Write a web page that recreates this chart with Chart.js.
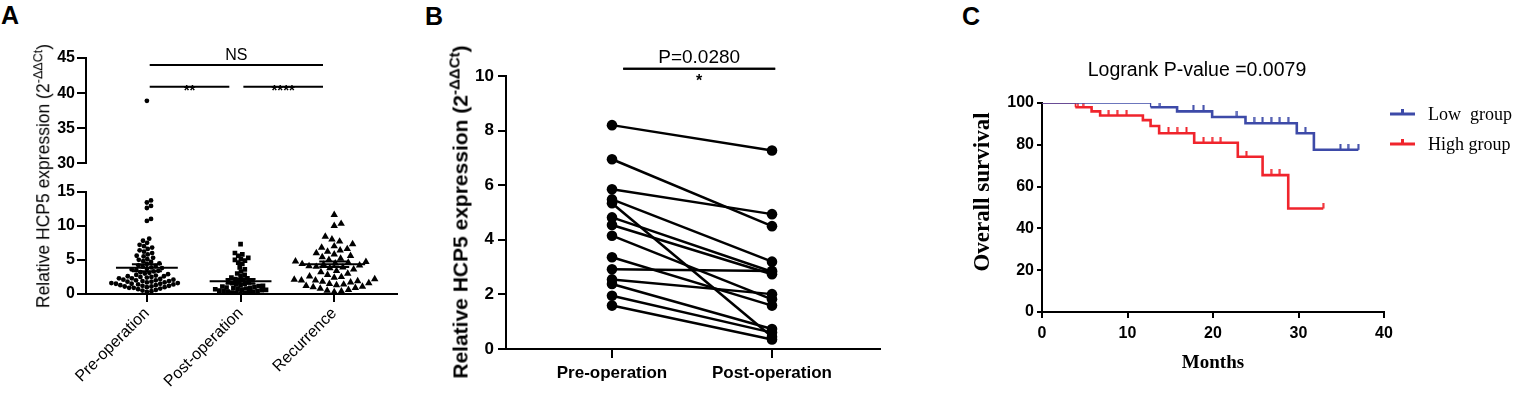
<!DOCTYPE html>
<html>
<head>
<meta charset="utf-8">
<script src="https://cdn.jsdelivr.net/npm/chart.js@4.4.1/dist/chart.umd.min.js"></script>
<style>
  body { margin: 0; background: #fff; width: 1521px; height: 396px; overflow: hidden; position: relative;
         font-family: 'Liberation Sans', Arial, sans-serif; color: #000; }
  canvas { position: absolute; }
  .panel { position: absolute; font-weight: bold; font-size: 25px; line-height: 1; }
  .ytitle { position: absolute; white-space: nowrap; transform: translate(-50%, -50%) rotate(-90deg); line-height: 1; }
  .ytitle sup { font-size: 72%; vertical-align: 0.55em; line-height: 0; }
</style>
</head>
<body>
<div class="panel" style="left:1px;top:3px">A</div>
<div class="panel" style="left:425px;top:4px">B</div>
<div class="panel" style="left:962px;top:4px">C</div>

<canvas id="aTop" style="left:0;top:40px" width="410" height="135"></canvas>
<canvas id="aBottom" style="left:0;top:180px" width="410" height="216"></canvas>
<canvas id="bChart" style="left:415px;top:30px" width="480" height="366"></canvas>
<canvas id="cChart" style="left:960px;top:40px" width="561" height="356"></canvas>

<div class="ytitle" style="left:44px;top:176px;font-size:17.5px">Relative HCP5 expression (2<sup>-ΔΔCt</sup>)</div>
<div class="ytitle" style="left:460px;top:212px;font-size:21px;font-weight:bold">Relative HCP5 expression (2<sup>-ΔΔCt</sup>)</div>

<script>
// ---- panel A: scatter of HCP5 expression per group ----
const groupLabels = ["Pre-operation", "Post-operation", "Recurrence"];
const preOp = [38.9, 13.7, 13.4, 12.9, 12.6, 11.0, 10.7, 8.1, 7.8, 7.5, 7.2, 7.0, 6.8, 6.6, 6.4, 6.2,
  6.0, 5.8, 5.6, 5.5, 5.3, 5.1, 5.0, 4.8, 4.7, 4.5, 4.4, 4.2, 4.1, 4.0, 3.9, 3.8, 3.7, 3.6, 3.5, 3.4,
  3.3, 3.2, 3.1, 3.0, 2.9, 2.8, 2.7, 2.6, 2.6, 2.5, 2.5, 2.4, 2.3, 2.3, 2.2, 2.1, 2.1, 2.0, 2.0, 1.9,
  1.9, 1.8, 1.8, 1.7, 1.7, 1.6, 1.6, 1.5, 1.5, 1.5, 1.4, 1.4, 1.3, 1.3, 1.2, 1.2, 1.1, 1.1, 1.0, 1.0,
  0.9, 0.9, 0.8, 0.7, 0.6, 0.5, 0.4, 0.3];
const postOp = [7.3, 6.0, 5.8, 5.6, 5.3, 5.1, 5.0, 4.9, 4.6, 4.4, 3.9, 3.6, 3.3, 3.0, 2.8, 2.6, 2.4,
  2.3, 2.2, 2.1, 2.0, 1.9, 1.8, 1.7, 1.6, 1.5, 1.4, 1.3, 1.2, 1.15, 1.1, 1.0, 0.95, 0.9, 0.85, 0.8,
  0.75, 0.7, 0.65, 0.6, 0.55, 0.5, 0.45, 0.4, 0.35, 0.3, 0.25, 0.2, 0.15, 0.1, 0.05];
const recurrence = [11.6, 10.3, 10.0, 8.4, 8.0, 7.7, 7.3, 7.0, 6.8, 6.6, 6.4, 6.2, 6.0, 5.8, 5.6, 5.4,
  5.2, 5.0, 4.8, 4.7, 4.6, 4.5, 4.4, 4.3, 4.2, 4.1, 4.0, 3.9, 3.8, 3.6, 3.4, 3.2, 3.0, 2.8, 2.6, 2.5,
  2.4, 2.2, 2.1, 2.0, 2.0, 1.9, 1.8, 1.7, 1.6, 1.5, 1.4, 1.3, 1.2, 1.1, 1.0, 0.9, 0.8, 0.6, 0.5, 0.4, 0.3];
const groupMeans = [3.85, 1.85, 4.36];
const groupSems = [0.5, 0.35, 0.4];
const aTicksTop = [30, 35, 40, 45];
const aTicksBottom = [0, 5, 10, 15];
// significance brackets: group index from/to, height in y units
const aBrackets = [
  { from: 0, to: 2, level: 44, text: "NS" },
  { from: 0, to: 1, level: 40.9, text: "**" },
  { from: 1, to: 2, level: 40.9, text: "****" },
];

// ---- panel B: paired samples ----
const pairedLabels = ["Pre-operation", "Post-operation"];
const pairedPre = [8.2, 6.95, 5.85, 5.48, 5.34, 4.82, 4.54, 4.15, 3.36, 2.92, 2.55, 2.38, 1.95, 1.59];
const pairedPost = [7.27, 4.5, 4.94, 3.2, 0.45, 2.83, 2.74, 1.82, 1.59, 2.86, 2.01, 0.73, 0.6, 0.35];

// ---- panel C: Kaplan-Meier ----
const lowTimes = [0, 12.7, 15.8, 19.9, 23.8, 29.8, 31.8, 37.0];
const lowSurv = [100, 98.0, 96.0, 93.3, 90.3, 85.5, 77.6, 77.6];
const lowCensor = [8.9, 10.9, 13.8, 17.7, 18.9, 22.8, 24.8, 25.8, 26.8, 27.8, 28.8, 30.8, 34.9, 35.8, 37.0];
const highTimes = [0, 3.9, 5.8, 6.8, 11.8, 12.7, 13.7, 17.8, 22.9, 25.8, 28.8, 32.9];
const highSurv = [100, 98.0, 96.0, 94.0, 91.8, 89.0, 85.5, 81.0, 74.3, 65.5, 49.5, 49.5];
const highCensor = [4.2, 4.8, 7.8, 8.8, 9.9, 14.8, 15.8, 16.9, 18.9, 19.9, 20.9, 23.9, 26.8, 27.8, 32.9];

const BLUE = "#3d4aa8";
const RED = "#f0242c";

Chart.defaults.font.family = "'Liberation Sans', Arial, sans-serif";
Chart.defaults.color = "#000";
Chart.defaults.animation = false;
Chart.defaults.responsive = false;
Chart.defaults.plugins.legend.display = false;
Chart.defaults.plugins.tooltip.enabled = false;

function gridStyle(len) {
  return { drawOnChartArea: false, drawTicks: true, tickLength: len, color: "#000", lineWidth: 2 };
}
const border = { color: "#000", width: 2 };

// beeswarm layout in pixel space, converted back to x values
function swarm(chart, values, cat, d) {
  const xs = chart.scales.x, ys = chart.scales.y;
  const cx = xs.getPixelForValue(cat);
  const placed = [];
  const out = new Array(values.length);
  const order = values.map((v, i) => i).sort((a, b) => values[a] - values[b]);
  order.forEach((i) => {
    const py = ys.getPixelForValue(values[i]);
    const cands = [0];
    placed.forEach((p) => {
      const dy = p.y - py;
      if (Math.abs(dy) < d) {
        const dx = Math.sqrt(d * d - dy * dy);
        cands.push(p.x + dx, p.x - dx);
      }
    });
    cands.sort((a, b) => Math.abs(a) - Math.abs(b));
    const dx = cands.find((c) => placed.every((p) => (p.x - c) ** 2 + (p.y - py) ** 2 >= d * d - 0.01));
    placed.push({ x: dx, y: py });
    out[i] = { x: xs.getValueForPixel(cx + dx), y: values[i] };
  });
  return out;
}

const bracketPlugin = {
  id: "brackets",
  afterDraw(chart, args, opts) {
    const ctx = chart.ctx, xs = chart.scales.x, ys = chart.scales.y;
    ctx.save();
    ctx.strokeStyle = "#000";
    ctx.fillStyle = "#000";
    ctx.lineWidth = 2;
    ctx.textAlign = "center";
    ctx.textBaseline = "alphabetic";
    (opts.items || []).forEach((b) => {
      const x1 = xs.getPixelForValue(b.from + opts.base + opts.inset);
      const x2 = xs.getPixelForValue(b.to + opts.base - opts.insetEnd);
      const y = ys.getPixelForValue(b.level);
      ctx.beginPath();
      ctx.moveTo(x1, y);
      ctx.lineTo(x2, y);
      ctx.stroke();
      const stars = /^\*+$/.test(b.text);
      ctx.font = stars ? opts.starFont : opts.textFont;
      ctx.fillText(b.text, (x1 + x2) / 2, y + (stars ? opts.starOffset : opts.textOffset));
    });
    ctx.restore();
  },
};

const meanPlugin = {
  id: "meanSem",
  afterDatasetsDraw(chart) {
    const ctx = chart.ctx, xs = chart.scales.x, ys = chart.scales.y;
    ctx.save();
    ctx.strokeStyle = "#000";
    ctx.lineWidth = 2;
    groupMeans.forEach((m, i) => {
      const c = i + 1;
      const ym = ys.getPixelForValue(m);
      const yh = ys.getPixelForValue(m + groupSems[i]);
      const yl = ys.getPixelForValue(m - groupSems[i]);
      ctx.beginPath();
      ctx.moveTo(xs.getPixelForValue(c - 0.33), ym);
      ctx.lineTo(xs.getPixelForValue(c + 0.33), ym);
      ctx.moveTo(xs.getPixelForValue(c), yh);
      ctx.lineTo(xs.getPixelForValue(c), yl);
      [yh, yl].forEach((yy) => {
        ctx.moveTo(xs.getPixelForValue(c - 0.16), yy);
        ctx.lineTo(xs.getPixelForValue(c + 0.16), yy);
      });
      ctx.stroke();
    });
    ctx.restore();
  },
};

function groupDatasets(filter) {
  const styles = [
    { pointStyle: "circle", pointRadius: 2.4 },
    { pointStyle: "rect", pointRadius: 3.3 },
    { pointStyle: "triangle", pointRadius: 4.3 },
  ];
  return [preOp, postOp, recurrence].map((vals, i) => ({
    data: vals.filter(filter).map((v) => ({ x: i + 1, y: v })),
    pointStyle: styles[i].pointStyle,
    pointRadius: styles[i].pointRadius,
    backgroundColor: "#000",
    borderColor: "#000",
    borderWidth: 0,
  }));
}

function aScales(yMin, yMax, ticks, showX, xHeight) {
  return {
    x: {
      type: "linear",
      display: showX,
      min: 0.35,
      max: 3.67,
      afterBuildTicks: (s) => { s.ticks = [1, 2, 3].map((v) => ({ value: v })); },
      afterFit: (s) => { s.height = xHeight; },
      ticks: { callback: (v) => groupLabels[v - 1], minRotation: 45, maxRotation: 45, font: { size: 16 }, padding: 2 },
      grid: gridStyle(8),
      border: border,
    },
    y: {
      min: yMin,
      max: yMax,
      afterBuildTicks: (s) => { s.ticks = ticks.map((v) => ({ value: v })); },
      afterFit: (s) => { s.width = 86; },
      ticks: { font: { size: 16, weight: "bold" }, padding: 2 },
      grid: gridStyle(9),
      border: border,
    },
  };
}

const aTop = new Chart(document.getElementById("aTop"), {
  type: "scatter",
  data: { datasets: groupDatasets((v) => v > 15) },
  options: {
    layout: { padding: { top: 18, bottom: 6, right: 13, left: 0 } },
    scales: aScales(30, 45, aTicksTop, false, 0),
    plugins: {
      brackets: {
        items: aBrackets, base: 1, inset: 0.03, insetEnd: 0.12,
        textFont: "16px 'Liberation Sans', Arial, sans-serif", textOffset: -5,
        starFont: "bold 15px 'Liberation Sans', Arial, sans-serif", starOffset: 8,
      },
    },
  },
  plugins: [bracketPlugin],
});

const aBottom = new Chart(document.getElementById("aBottom"), {
  type: "scatter",
  data: { datasets: groupDatasets((v) => v <= 15) },
  options: {
    layout: { padding: { top: 5, bottom: 0, right: 13, left: 0 } },
    scales: aScales(0, 15, aTicksBottom, true, 102),
  },
  plugins: [meanPlugin],
});

const swarmSize = [4.6, 4.3, 7.2];
[aTop, aBottom].forEach((ch, k) => {
  const filt = k === 0 ? (v) => v > 15 : (v) => v <= 15;
  [preOp, postOp, recurrence].forEach((vals, i) => {
    ch.data.datasets[i].data = swarm(ch, vals.filter(filt), i + 1, swarmSize[i]);
  });
  ch.update("none");
});

// ---- panel B ----
new Chart(document.getElementById("bChart"), {
  type: "line",
  data: {
    datasets: pairedPre.map((v, i) => ({
      data: [{ x: 1, y: v }, { x: 2, y: pairedPost[i] }],
      borderColor: "#000",
      borderWidth: 2.5,
      pointRadius: 5.3,
      pointBackgroundColor: "#000",
      pointBorderWidth: 0,
    })),
  },
  options: {
    layout: { padding: { top: 46, right: 15, left: 0, bottom: 0 } },
    scales: {
      x: {
        type: "linear",
        min: 0.3375,
        max: 2.675,
        afterBuildTicks: (s) => { s.ticks = [1, 2].map((v) => ({ value: v })); },
        afterFit: (s) => { s.height = 47; },
        ticks: { callback: (v) => pairedLabels[v - 1], font: { size: 17, weight: "bold" }, padding: 5, maxRotation: 0 },
        grid: gridStyle(9),
        border: border,
      },
      y: {
        min: 0,
        max: 10,
        ticks: { stepSize: 2, font: { size: 17, weight: "bold" }, padding: 4 },
        afterFit: (s) => { s.width = 91; },
        grid: gridStyle(8),
        border: border,
      },
    },
    plugins: {
      brackets: {
        items: [{ from: 0, to: 1, level: 10.27, text: "P=0.0280" }, { from: 0, to: 1, level: 10.27, text: "*" }],
        base: 1, inset: 0.07, insetEnd: -0.02,
        textFont: "19px 'Liberation Sans', Arial, sans-serif", textOffset: -6,
        starFont: "bold 16px 'Liberation Sans', Arial, sans-serif", starOffset: 17,
      },
    },
  },
  plugins: [bracketPlugin],
});

// ---- panel C ----
function survAt(times, surv, t) {
  let s = surv[0];
  times.forEach((tt, i) => { if (tt <= t) s = surv[i]; });
  return s;
}
function tickMark(color) {
  const c = document.createElement("canvas");
  c.width = 3;
  c.height = 12;
  const g = c.getContext("2d");
  g.fillStyle = color;
  g.fillRect(0.5, 0, 2, 6);
  return c;
}

const cDecor = {
  id: "cDecor",
  afterDraw(chart) {
    const ctx = chart.ctx;
    ctx.save();
    ctx.fillStyle = "#000";
    ctx.textAlign = "center";
    ctx.textBaseline = "middle";
    ctx.font = "19.5px 'Liberation Sans', Arial, sans-serif";
    ctx.fillText("Logrank P-value =0.0079", 237, 31);
    // y axis title, placed as in the original figure
    ctx.save();
    ctx.translate(23, 152);
    ctx.rotate(-Math.PI / 2);
    ctx.font = "bold 23px 'Liberation Serif', 'Times New Roman', serif";
    ctx.fillText("Overall survival", 0, 0);
    ctx.restore();
    [["Low  group", BLUE, 74], ["High group", RED, 104]].forEach(([label, color, y]) => {
      ctx.strokeStyle = color;
      ctx.lineWidth = 3;
      ctx.beginPath();
      ctx.moveTo(430, y);
      ctx.lineTo(455, y);
      ctx.moveTo(442.5, y);
      ctx.lineTo(442.5, y - 5);
      ctx.stroke();
      ctx.textAlign = "left";
      ctx.font = "18px 'Liberation Serif', 'Times New Roman', serif";
      ctx.fillText(label, 468, y + 1);
    });
    ctx.restore();
  },
};

const thinStart = (w) => (c) => (c.p0DataIndex === 0 ? 1.3 : w);

new Chart(document.getElementById("cChart"), {
  type: "line",
  data: {
    datasets: [
      {
        data: lowTimes.map((t, i) => ({ x: t, y: lowSurv[i] })),
        stepped: "before", borderColor: BLUE, borderWidth: 2.6, pointRadius: 0,
        segment: { borderWidth: thinStart(2.6) },
      },
      {
        data: highTimes.map((t, i) => ({ x: t, y: highSurv[i] })),
        stepped: "before", borderColor: RED, borderWidth: 2.6, pointRadius: 0,
        segment: { borderWidth: thinStart(2.6) },
      },
      {
        data: lowCensor.map((t) => ({ x: t, y: survAt(lowTimes, lowSurv, t) })),
        showLine: false, pointStyle: tickMark(BLUE), pointRadius: 5,
      },
      {
        data: highCensor.map((t) => ({ x: t, y: survAt(highTimes, highSurv, t) })),
        showLine: false, pointStyle: tickMark(RED), pointRadius: 5,
      },
    ],
  },
  options: {
    layout: { padding: { top: 63, right: 137, left: 0, bottom: 0 } },
    scales: {
      x: {
        type: "linear",
        min: 0,
        max: 40,
        ticks: { stepSize: 10, font: { size: 16, weight: "bold" }, padding: 6 },
        afterFit: (s) => { s.height = 84; },
        grid: gridStyle(6),
        border: border,
        title: {
          display: true, text: "Months", padding: { top: 0, bottom: 22 },
          font: { family: "'Liberation Serif', 'Times New Roman', serif", size: 19, weight: "bold" },
        },
      },
      y: {
        min: 0,
        max: 100,
        ticks: { stepSize: 20, font: { size: 16, weight: "bold" }, padding: 3 },
        afterFit: (s) => { s.width = 82; },
        grid: gridStyle(5),
        border: border,
      },
    },
  },
  plugins: [cDecor],
});
</script>
</body>
</html>
